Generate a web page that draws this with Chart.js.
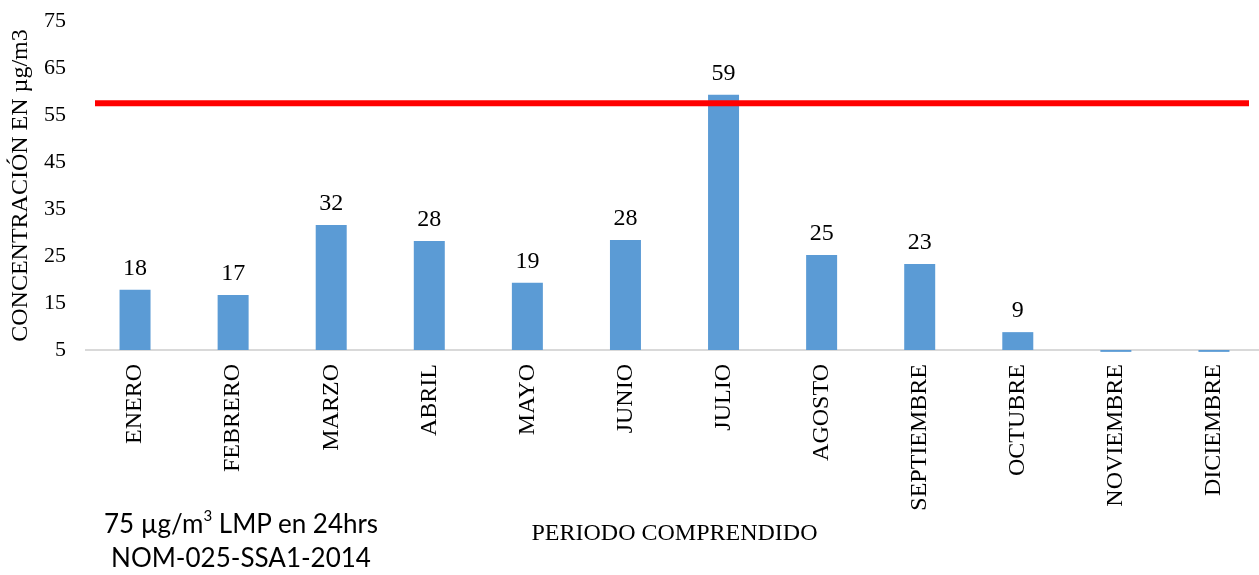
<!DOCTYPE html>
<html>
<head>
<meta charset="utf-8">
<script src="https://cdn.jsdelivr.net/npm/chart.js@4.4.1/dist/chart.umd.min.js"></script>
<style>
  html, body { margin: 0; padding: 0; background: #fff; overflow: hidden; }
  #wrap { position: absolute; left: 0; top: 0; width: 1265px; height: 575px; }
  #note { position: absolute; left: 60px; top: 506px; width: 362px; text-align: center;
          font-family: Lato, 'Liberation Sans', sans-serif; font-size: 26px;
          line-height: 34px; color: #000; }
  #note sup { font-size: 15px; line-height: 0; vertical-align: 12px; }
</style>
</head>
<body>
<div id="wrap"><canvas id="c"></canvas></div>
<div id="note">75 µg/m<sup>3</sup> LMP en 24hrs<br>NOM-025-SSA1-2014</div>
<script>
const categories = ['ENERO','FEBRERO','MARZO','ABRIL','MAYO','JUNIO','JULIO','AGOSTO','SEPTIEMBRE','OCTUBRE','NOVIEMBRE','DICIEMBRE'];
const concentration = [17.8, 16.7, 31.6, 28.2, 19.3, 28.4, 59.3, 25.2, 23.3, 8.8, 4.6, 4.6];
const limitValue = 57.5;
const yTicks = [5, 15, 25, 35, 45, 55, 65, 75];
const yTitle = 'CONCENTRACIÓN EN µg/m3';
const xTitle = 'PERIODO COMPRENDIDO';

const serif = "'Liberation Serif', 'Times New Roman', serif";

const extrasPlugin = {
  id: 'extras',
  afterDatasetsDraw(chart) {
    const ctx = chart.ctx;
    const y = chart.scales.y;
    const area = chart.chartArea;
    const py = y.getPixelForValue(limitValue);
    ctx.save();
    ctx.strokeStyle = '#FF0000';
    ctx.lineWidth = 6;
    ctx.beginPath();
    ctx.moveTo(area.left + 9, py);
    ctx.lineTo(area.right - 14, py);
    ctx.stroke();
    const meta = chart.getDatasetMeta(0);
    ctx.fillStyle = '#000';
    ctx.font = '24px ' + serif;
    ctx.textAlign = 'center';
    ctx.textBaseline = 'alphabetic';
    meta.data.forEach((bar, i) => {
      const v = concentration[i];
      if (v < y.min) return;
      ctx.fillText(String(Math.round(v)), bar.x, bar.y - 15);
    });
    ctx.restore();
  }
};

new Chart(document.getElementById('c'), {
  type: 'bar',
  data: {
    labels: categories,
    datasets: [{
      data: concentration,
      base: 5,
      backgroundColor: '#5B9BD5',
      borderWidth: 0,
      barPercentage: 0.316,
      categoryPercentage: 1,
      clip: false
    }]
  },
  options: {
    responsive: true,
    maintainAspectRatio: false,
    animation: false,
    layout: { padding: { left: 0, right: 2, top: 21, bottom: 27 } },
    plugins: { legend: { display: false }, tooltip: { enabled: false } },
    scales: {
      x: {
        grid: { display: false, drawTicks: false },
        border: { display: true, color: '#d9d9d9', width: 2 },
        ticks: {
          color: '#000', font: { family: serif, size: 24 },
          minRotation: 90, maxRotation: 90, padding: 14, autoSkip: false
        },
        title: { display: true, text: xTitle, color: '#000', font: { family: serif, size: 24 }, padding: { top: 0, bottom: 0 } },
        afterFit(scale) { scale.height = 575 - 27 - 350; }
      },
      y: {
        min: 5, max: 75,
        afterBuildTicks(scale) { scale.ticks = yTicks.map(v => ({ value: v })); },
        grid: { display: false, drawTicks: false },
        border: { display: false },
        ticks: { color: '#000', font: { family: serif, size: 22 }, padding: 20 },
        title: { display: true, text: yTitle, color: '#000', font: { family: serif, size: 24 }, padding: { top: 6, bottom: 0 } },
        afterFit(scale) { scale.width = 86; scale.paddingTop = 10; scale.paddingBottom = 10; }
      }
    }
  },
  plugins: [extrasPlugin]
});
</script>
</body>
</html>
